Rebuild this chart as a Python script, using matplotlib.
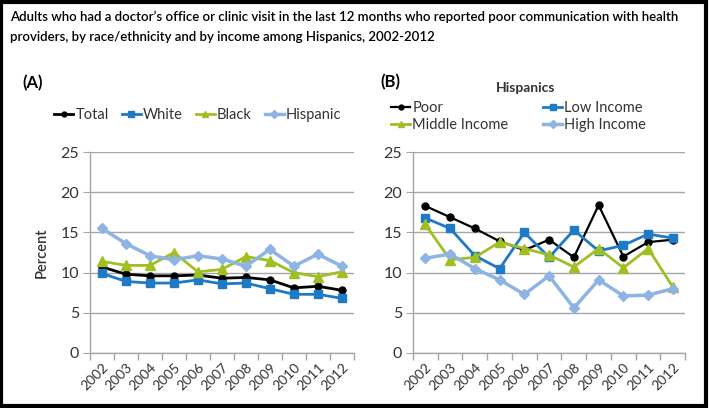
import numpy as np
import matplotlib
matplotlib.use('Agg')
import matplotlib.pyplot as plt
from matplotlib.patches import Rectangle

plt.rcParams['font.family'] = ['Lato', 'DejaVu Sans']

years = ['2002', '2003', '2004', '2005', '2006', '2007', '2008', '2009', '2010', '2011', '2012']

# panel A: by race/ethnicity
total = [10.7, 9.8, 9.6, 9.6, 9.7, 9.3, 9.4, 9.1, 8.1, 8.3, 7.8]
white = [9.9, 8.9, 8.7, 8.7, 9.1, 8.6, 8.7, 8.0, 7.3, 7.3, 6.8]
black = [11.4, 10.9, 10.9, 12.5, 10.1, 10.4, 12.0, 11.5, 10.0, 9.5, 10.1]
hispanic = [15.5, 13.6, 12.1, 11.6, 12.1, 11.7, 10.8, 12.9, 10.8, 12.3, 10.8]

# panel B: Hispanics by income
poor = [18.3, 16.9, 15.5, 13.9, 12.8, 14.1, 11.9, 18.4, 12.0, 13.8, 14.1]
low_income = [16.8, 15.5, 12.1, 10.5, 15.0, 11.9, 15.3, 12.7, 13.4, 14.8, 14.3]
middle_income = [16.0, 11.6, 11.9, 13.8, 13.0, 12.2, 10.7, 13.0, 10.6, 13.0, 8.2]
high_income = [11.8, 12.3, 10.5, 9.1, 7.3, 9.6, 5.6, 9.1, 7.1, 7.2, 8.0]

c_black = '#000000'
c_blue = '#1f7ac6'
c_green = '#9fbf22'
c_light = '#8db4e3'
grid_c = '#a6a6a6'

fig = plt.figure(figsize=(7.09, 4.08), dpi=100)
fig.patches.append(Rectangle((0.002, 0.004), 0.994, 0.992, transform=fig.transFigure,
                             fill=False, edgecolor='black', linewidth=3))

fig.text(0.014, 0.958, "Adults who had a doctor\u2019s office or clinic visit in the last 12 months who reported poor communication with health",
         fontsize=9.5, fontweight='semibold', va='center')
fig.text(0.014, 0.910, "providers, by race/ethnicity and by income among Hispanics, 2002-2012",
         fontsize=9.5, fontweight='semibold', va='center')


def style_axes(ax):
    x = np.arange(len(years))
    ax.set_xlim(-0.5, len(years) - 0.5)
    ax.set_ylim(0, 25)
    ax.set_yticks([0, 5, 10, 15, 20, 25])
    ax.set_xticks(x)
    ax.set_xticklabels(years, rotation=45, ha='right', rotation_mode='anchor', fontsize=10, color='#333333')
    ax.set_xticks(np.arange(-0.5, len(years)), minor=True)
    ax.tick_params(axis='x', which='major', length=0, pad=6)
    ax.tick_params(axis='x', which='minor', length=5, color=grid_c, width=1)
    ax.tick_params(axis='y', length=5, color=grid_c, labelsize=11.5, labelcolor='#333333', pad=3)
    ax.grid(axis='y', color=grid_c, linewidth=1)
    ax.set_axisbelow(True)
    for s in ['top', 'right']:
        ax.spines[s].set_visible(False)
    for s in ['left', 'bottom']:
        ax.spines[s].set_color(grid_c)
        ax.spines[s].set_linewidth(1)


axA = fig.add_axes([0.127, 0.135, 0.372, 0.492])
x = np.arange(len(years))
lA = []
lA += axA.plot(x, total, color=c_black, marker='o', markersize=5, linewidth=2, label='Total')
lA += axA.plot(x, white, color=c_blue, marker='s', markersize=6, linewidth=2, label='White')
lA += axA.plot(x, black, color=c_green, marker='^', markersize=7, linewidth=2, label='Black')
lA += axA.plot(x, hispanic, color=c_light, marker='D', markersize=5.5, linewidth=2.5, label='Hispanic')
style_axes(axA)
axA.set_ylabel('Percent', fontsize=10.5, fontweight='semibold', color='#333333', labelpad=8)

axB = fig.add_axes([0.5825, 0.135, 0.384, 0.492])
lB = []
lB += axB.plot(x, poor, color=c_black, marker='o', markersize=5, linewidth=1.6, label='Poor')
lB += axB.plot(x, low_income, color=c_blue, marker='s', markersize=6, linewidth=2, label='Low Income')
lB += axB.plot(x, middle_income, color=c_green, marker='^', markersize=7, linewidth=2, label='Middle Income')
lB += axB.plot(x, high_income, color=c_light, marker='D', markersize=5.5, linewidth=2.5, label='High Income')
style_axes(axB)

fig.text(0.031, 0.797, '(A)', fontsize=12, fontweight='bold', va='center')
fig.text(0.537, 0.799, '(B)', fontsize=12, fontweight='bold', va='center')

fig.legend(handles=lA, loc='center left', bbox_to_anchor=(0.058, 0.718), ncol=4, frameon=False,
           fontsize=10.5, handlelength=1.3, handletextpad=0.15, columnspacing=0.9, markerscale=0.7,
           labelcolor='#333333')
fig.text(0.742, 0.784, 'Hispanics', fontsize=10, fontweight='bold', color='#333333', ha='center', va='center')
fig.legend(handles=[lB[0], lB[2], lB[1], lB[3]], loc='center left', bbox_to_anchor=(0.533, 0.714), ncol=2,
           frameon=False, fontsize=10.5, handlelength=1.3, handletextpad=0.15, columnspacing=2.4,
           markerscale=0.7, labelspacing=0.2, labelcolor='#333333')

fig.savefig('out.png', dpi=100)
